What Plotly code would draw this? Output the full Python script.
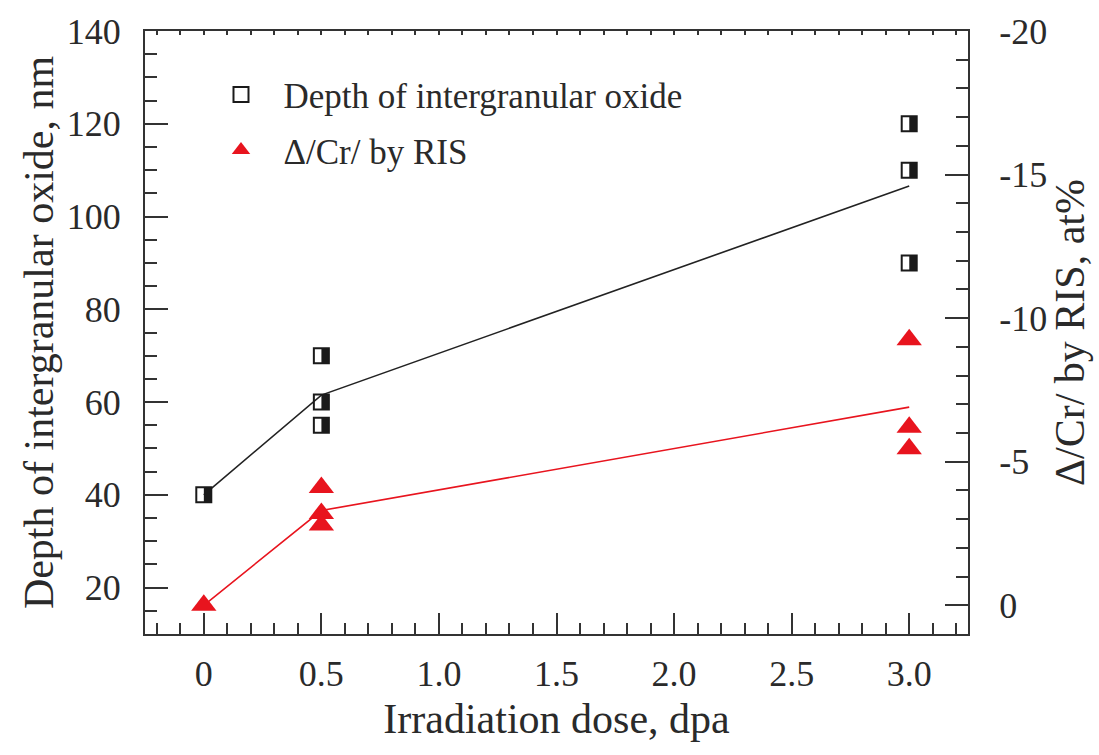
import plotly.graph_objects as go

# ---- data ----
dose_depth = [0, 0.5, 0.5, 0.5, 3.0, 3.0, 3.0]
depth_nm = [40, 70, 60, 55, 120, 110, 90]
fit_depth_x = [0, 0.5, 3.0]
fit_depth_y = [40, 61.5, 106.6]

dose_cr = [0, 0.5, 0.5, 0.5, 3.0, 3.0, 3.0]
delta_cr = [0.0, -4.1, -3.2, -2.8, -9.25, -6.2, -5.45]
fit_cr_x = [0, 0.5, 3.0]
fit_cr_y = [0.0, -3.3, -6.9]

x_tickvals = [0, 0.5, 1.0, 1.5, 2.0, 2.5, 3.0]
x_ticktext = ["0", "0.5", "1.0", "1.5", "2.0", "2.5", "3.0"]
y2_tickvals = [-20, -15, -10, -5, 0]
y2_ticktext = ["-20", "-15", "-10", "-5", "0"]

FONT = "Liberation Serif"
AX = "#333333"
TXT = "#2a2a2a"
RED = "#e8141e"

fig = go.Figure()

# fit lines
fig.add_trace(go.Scatter(x=fit_depth_x, y=fit_depth_y, mode="lines",
                         line=dict(color="#222222", width=1.6), showlegend=False,
                         hoverinfo="skip"))
fig.add_trace(go.Scatter(x=fit_cr_x, y=fit_cr_y, mode="lines", yaxis="y2",
                         line=dict(color=RED, width=1.6), showlegend=False,
                         hoverinfo="skip"))

# half-filled squares: open square + filled right half
fig.add_trace(go.Scatter(x=dose_depth, y=depth_nm, mode="markers",
                         name="Depth of intergranular oxide", legendgroup="a",
                         marker=dict(symbol="square-open", size=15, color="#1a1a1a",
                                     line=dict(width=2, color="#1a1a1a"))))
px_per_unit = 823 / 3.5
dx = 3.8 / px_per_unit
fig.add_trace(go.Scatter(x=[v + dx for v in dose_depth], y=depth_nm, mode="markers",
                         showlegend=False, hoverinfo="skip",
                         marker=dict(symbol="line-ns", size=11, color="#1a1a1a",
                                     line=dict(width=7.5, color="#1a1a1a"))))

fig.add_trace(go.Scatter(x=dose_cr, y=delta_cr, mode="markers", yaxis="y2",
                         name="\u0394/Cr/ by RIS", legendgroup="b",
                         marker=dict(symbol="triangle-up", size=22, color=RED,
                                     line=dict(width=0))))

# invisible trace on top axis so it is drawn
fig.add_trace(go.Scatter(x=[None], y=[None], xaxis="x2", showlegend=False,
                         hoverinfo="skip"))

tickfont = dict(family=FONT, size=36, color=TXT)
titlefont = dict(family=FONT, size=42, color=TXT)

fig.update_layout(
    width=1099, height=755,
    margin=dict(l=145, r=131, t=28, b=121),
    plot_bgcolor="white", paper_bgcolor="white",
    font=dict(family=FONT, color=TXT),
    xaxis=dict(range=[-0.25, 3.25], tickvals=x_tickvals, ticktext=x_ticktext,
               ticks="inside", ticklen=21, tickwidth=2, tickcolor=AX,
               showline=True, linewidth=2, linecolor=AX, showgrid=False,
               zeroline=False, tickfont=tickfont, ticklabelstandoff=7,
               minor=dict(ticks="inside", ticklen=11, tickwidth=2, tickcolor=AX,
                          dtick=0.1, tick0=0, showgrid=False),
               title=dict(text="Irradiation dose, dpa", font=titlefont, standoff=10)),
    xaxis2=dict(range=[-0.25, 3.25], overlaying="x", side="top", anchor="y",
                tick0=0, dtick=0.1, ticks="inside", ticklen=4, tickwidth=1.5,
                tickcolor=AX, showticklabels=False, showline=True, linewidth=2,
                linecolor=AX, showgrid=False, zeroline=False),
    yaxis=dict(range=[10, 140], tick0=0, dtick=20, ticks="inside", ticklen=23,
               tickwidth=2, tickcolor=AX, showline=True, linewidth=2, linecolor=AX,
               showgrid=False, zeroline=False, tickfont=tickfont, ticklabelstandoff=15,
               minor=dict(ticks="inside", ticklen=12, tickwidth=2, tickcolor=AX,
                          dtick=5, tick0=0, showgrid=False),
               title=dict(text="Depth of intergranular oxide, nm",
                          font=titlefont, standoff=0)),
    yaxis2=dict(range=[1, -20], tickvals=y2_tickvals, ticktext=y2_ticktext,
                overlaying="y", side="right",
                anchor="x", ticks="inside", ticklen=23, tickwidth=2, tickcolor=AX,
                showline=True, linewidth=2, linecolor=AX, showgrid=False,
                zeroline=False, tickfont=tickfont, ticklabelstandoff=22,
                minor=dict(ticks="inside", ticklen=12, tickwidth=2, tickcolor=AX,
                           dtick=1, tick0=0, showgrid=False),
                title=dict(text="\u0394/Cr/ by RIS, at%",
                           font=titlefont, standoff=4)),
    legend=dict(x=0.065, y=0.943, xanchor="left", yanchor="top",
                bgcolor="rgba(0,0,0,0)", font=dict(family=FONT, size=35, color=TXT),
                traceorder="grouped", tracegroupgap=7, itemwidth=75),
)

fig.write_html("out.html")
